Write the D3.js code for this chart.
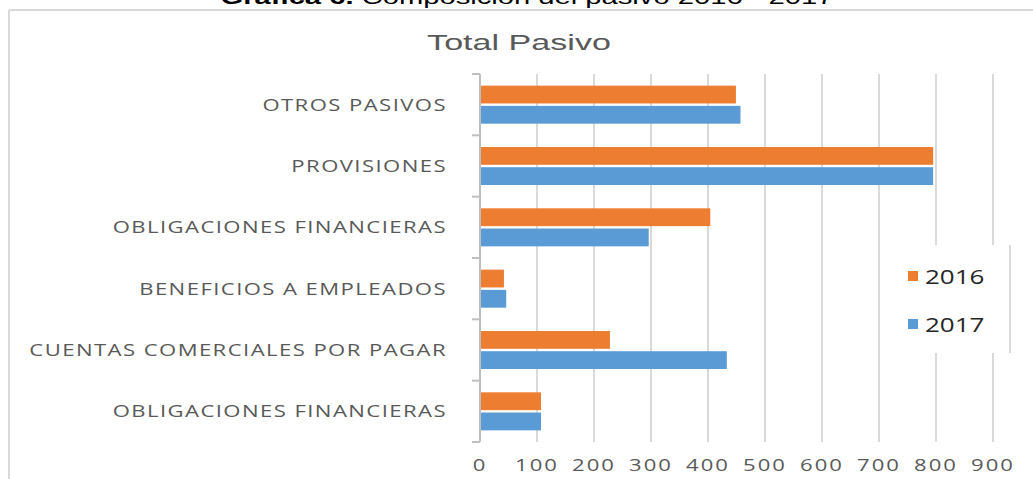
<!DOCTYPE html>
<html>
<head>
<meta charset="utf-8">
<script src="https://cdn.jsdelivr.net/npm/d3@7"></script>
<style>
  body { margin: 0; background: #fff; }
  svg { display: block; }
  .cat text { font-family: "Open Sans", sans-serif; font-size: 17px; fill: #595959; letter-spacing: 1.1px; }
  .val text { font-family: "Open Sans", sans-serif; font-size: 17px; fill: #595959; letter-spacing: 1.5px; }
</style>
</head>
<body>
<svg id="chart" width="1033" height="479"></svg>
<script>
// categories from top to bottom as drawn
var categories = ["OTROS PASIVOS", "PROVISIONES", "OBLIGACIONES FINANCIERAS",
                  "BENEFICIOS A EMPLEADOS", "CUENTAS COMERCIALES POR PAGAR", "OBLIGACIONES FINANCIERAS "];
var series = ["2016", "2017"];
var values2016 = [449, 795, 404, 42, 228, 107];
var values2017 = [457, 795, 296, 46, 433, 107];
var xTicks = [0, 100, 200, 300, 400, 500, 600, 700, 800, 900];
var colors = ["#ED7D31", "#5B9BD5"];

// the source picture is stretched sideways, so text gets widened too
const STRETCH = 1.3;

var svg = d3.select("#chart");

// plot area
var MARGIN = {top: 74, left: 480},
    WIDTH = 513,
    HEIGHT = 368;

// outer frame of the chart
svg.append("line").attr("x1", 9).attr("x2", 1033).attr("y1", 10).attr("y2", 10)
   .attr("stroke", "#d9d9d9").attr("stroke-width", 2);
svg.append("line").attr("x1", 9).attr("x2", 9).attr("y1", 10).attr("y2", 479)
   .attr("stroke", "#d9d9d9").attr("stroke-width", 2);

// figure caption, cut at the top
var cap = svg.append("text")
   .attr("transform", "translate(527,4) scale(1.39,1)")
   .attr("text-anchor", "middle")
   .style("font-family", "Liberation Sans, Arial, sans-serif")
   .style("font-size", "21px").attr("fill", "#000");
cap.append("tspan").style("font-weight", "bold").text("Gráfica 6.");
cap.append("tspan").text(" Composición del pasivo 2016 - 2017");

// chart title
svg.append("text")
   .attr("transform", "translate(519,50) scale(1.55,1)")
   .attr("text-anchor", "middle")
   .style("font-family", "Liberation Sans, Arial, sans-serif")
   .style("font-size", "22px").attr("fill", "#595959")
   .text("Total Pasivo");

var g = svg.append("g").attr("transform", "translate(" + MARGIN.left + "," + MARGIN.top + ")");

// scales
var xScale = d3.scaleLinear().domain([0, 900]).range([0, WIDTH]);
var yScale = d3.scaleBand().domain(categories).range([0, HEIGHT]).paddingInner(0.38).paddingOuter(0.19);
var subScale = d3.scaleBand().domain(series).range([0, yScale.bandwidth()]).paddingInner(0.12);

// gridlines
g.selectAll(".grid").data(xTicks.slice(1)).enter().append("line")
  .attr("class", "grid")
  .attr("x1", d => xScale(d)).attr("x2", d => xScale(d))
  .attr("y1", 0).attr("y2", HEIGHT)
  .attr("stroke", "#d9d9d9").attr("stroke-width", 2);

// value axis labels (stretched like the source)
var valAxis = g.append("g").attr("class", "val")
  .attr("transform", "translate(0," + HEIGHT + ")");
valAxis.selectAll("text").data(xTicks).enter().append("text")
  .attr("transform", d => "translate(" + xScale(d) + ",29) scale(" + STRETCH + ",1)")
  .attr("text-anchor", "middle")
  .text(d => d);

// bars
var data = categories.map((c, i) => ({cat: c, vals: [values2016[i], values2017[i]]}));
var groups = g.selectAll(".bar-group").data(data).enter().append("g")
  .attr("transform", d => "translate(0," + yScale(d.cat) + ")");
groups.selectAll("rect").data(d => d.vals.map((v, j) => ({key: series[j], value: v, idx: j})))
  .enter().append("rect")
  .attr("x", xScale(0) + 1)
  .attr("y", d => subScale(d.key))
  .attr("width", d => xScale(d.value) - xScale(0) - 1)
  .attr("height", subScale.bandwidth())
  .attr("fill", d => colors[d.idx]);

// category axis
var bandEdges = categories.map(c => yScale(c) - yScale.step() * yScale.paddingInner() / 2);
bandEdges.push(HEIGHT);
var catAxis = g.append("g").attr("class", "cat");
catAxis.append("line").attr("x1", 0).attr("x2", 0).attr("y1", 0).attr("y2", HEIGHT)
  .attr("stroke", "#bfbfbf").attr("stroke-width", 2);
catAxis.selectAll(".tk").data(bandEdges).enter().append("line")
  .attr("x1", -8).attr("x2", 0)
  .attr("y1", d => Math.max(d, 0)).attr("y2", d => Math.max(d, 0))
  .attr("stroke", "#bfbfbf").attr("stroke-width", 2);
catAxis.selectAll("text").data(categories).enter().append("text")
  .attr("transform", d => "translate(-33," + (yScale(d) + yScale.bandwidth() / 2) + ") scale(" + STRETCH + ",1)")
  .attr("dy", "0.35em")
  .attr("text-anchor", "end")
  .text(d => d.trim());

// legend
var legend = svg.append("g").attr("transform", "translate(880,245)");
legend.append("rect").attr("width", 130).attr("height", 108).attr("fill", "#fff");
legend.append("line").attr("x1", 130).attr("x2", 130).attr("y1", 0).attr("y2", 108)
  .attr("stroke", "#d9d9d9").attr("stroke-width", 2);
series.forEach((s, i) => {
  legend.append("rect").attr("x", 28).attr("y", 26 + i * 48)
    .attr("width", 10).attr("height", 10).attr("fill", colors[i]);
  legend.append("text")
    .attr("transform", "translate(45," + (39 + i * 48) + ") scale(1.3,1)")
    .style("font-family", "Open Sans, sans-serif").style("font-size", "20px")
    .attr("fill", "#262626").text(s);
});
</script>
</body>
</html>
